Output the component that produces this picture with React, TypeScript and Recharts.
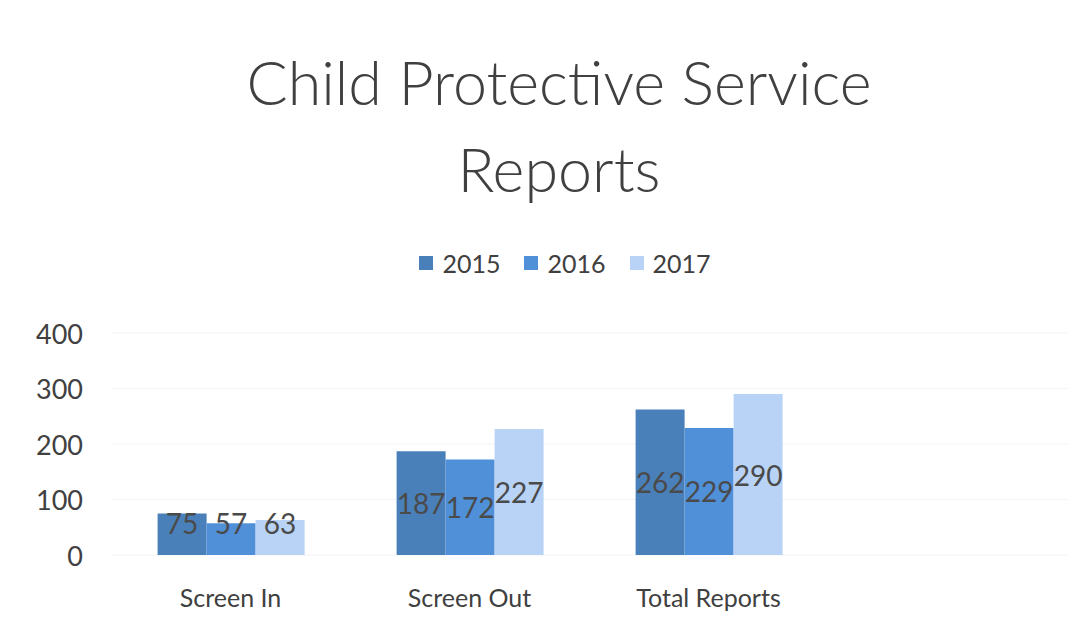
import { BarChart, Bar, XAxis, YAxis, CartesianGrid, Legend, LabelList } from 'recharts';

const categories = ['Screen In', 'Screen Out', 'Total Reports', ''];
const series2015 = [75, 187, 262, null];
const series2016 = [57, 172, 229, null];
const series2017 = [63, 227, 290, null];
const yTicks = [0, 100, 200, 300, 400];

const seriesList = [
    { key: 'y2015', name: '2015', color: '#4a80b9' },
    { key: 'y2016', name: '2016', color: '#4f90d9' },
    { key: 'y2017', name: '2017', color: '#b8d3f5' },
];

const data = categories.map((name, i) => ({
    name,
    y2015: series2015[i],
    y2016: series2016[i],
    y2017: series2017[i],
}));

const FONT = 'Lato, "Open Sans", sans-serif';
const PLOT_BOTTOM = 555;

function ValueLabel(props: any) {
    const { x, y, width, height, value } = props;
    if (value == null) return null;
    const cy = Math.min(y + height / 2, PLOT_BOTTOM - 32);
    return (
        <text
            x={x + width / 2}
            y={cy}
            textAnchor="middle"
            dominantBaseline="central"
            fill="#4a4a4a"
            fontSize={28}
            fontFamily={FONT}
        >
            {value}
        </text>
    );
}

function XTick(props: any) {
    const { x, y, payload } = props;
    return (
        <text x={x} y={y + 44} textAnchor="middle" fill="#404040" fontSize={25} fontFamily={FONT}>
            {payload.value}
        </text>
    );
}

function YTick(props: any) {
    const { x, y, payload } = props;
    return (
        <text x={x - 20} y={y} textAnchor="end" dominantBaseline="central" fill="#404040" fontSize={27} fontFamily={FONT}>
            {payload.value}
        </text>
    );
}

function LegendContent() {
    return (
        <div style={{ display: 'flex', justifyContent: 'center', gap: 24, fontFamily: FONT, fontSize: 25, color: '#404040' }}>
            {seriesList.map((s) => (
                <div key={s.key} style={{ display: 'flex', alignItems: 'center', gap: 9 }}>
                    <span style={{ width: 14, height: 14, background: s.color, display: 'inline-block' }} />
                    <span>{s.name}</span>
                </div>
            ))}
        </div>
    );
}

export default function App() {
    return (
        <div style={{ position: 'absolute', left: 0, top: 0, width: 1091, height: 643, background: '#fff' }}>
            <div
                style={{
                    position: 'absolute',
                    left: 0,
                    top: 38,
                    width: 1118,
                    textAlign: 'center',
                    fontFamily: FONT,
                    fontWeight: 300,
                    fontSize: 61,
                    lineHeight: '87px',
                    color: '#404040',
                }}
            >
                Child Protective Service
                <br />
                Reports
            </div>
            <BarChart
                width={1091}
                height={643}
                data={data}
                margin={{ top: 303, right: 24, bottom: 28, left: 0 }}
                barCategoryGap="19.5%"
                barGap={0}
            >
                <CartesianGrid vertical={false} stroke="#f3f3f3" />
                <XAxis dataKey="name" axisLine={false} tickLine={false} height={60} tick={<XTick />} interval={0} />
                <YAxis
                    width={111}
                    domain={[0, 400]}
                    ticks={yTicks}
                    axisLine={false}
                    tickLine={false}
                    tick={<YTick />}
                />
                <Legend
                    verticalAlign="top"
                    content={<LegendContent />}
                    wrapperStyle={{ top: 248, left: 0, width: 1130 }}
                />
                {seriesList.map((s) => (
                    <Bar key={s.key} dataKey={s.key} name={s.name} fill={s.color} isAnimationActive={false}>
                        <LabelList dataKey={s.key} content={<ValueLabel />} />
                    </Bar>
                ))}
            </BarChart>
        </div>
    );
}
